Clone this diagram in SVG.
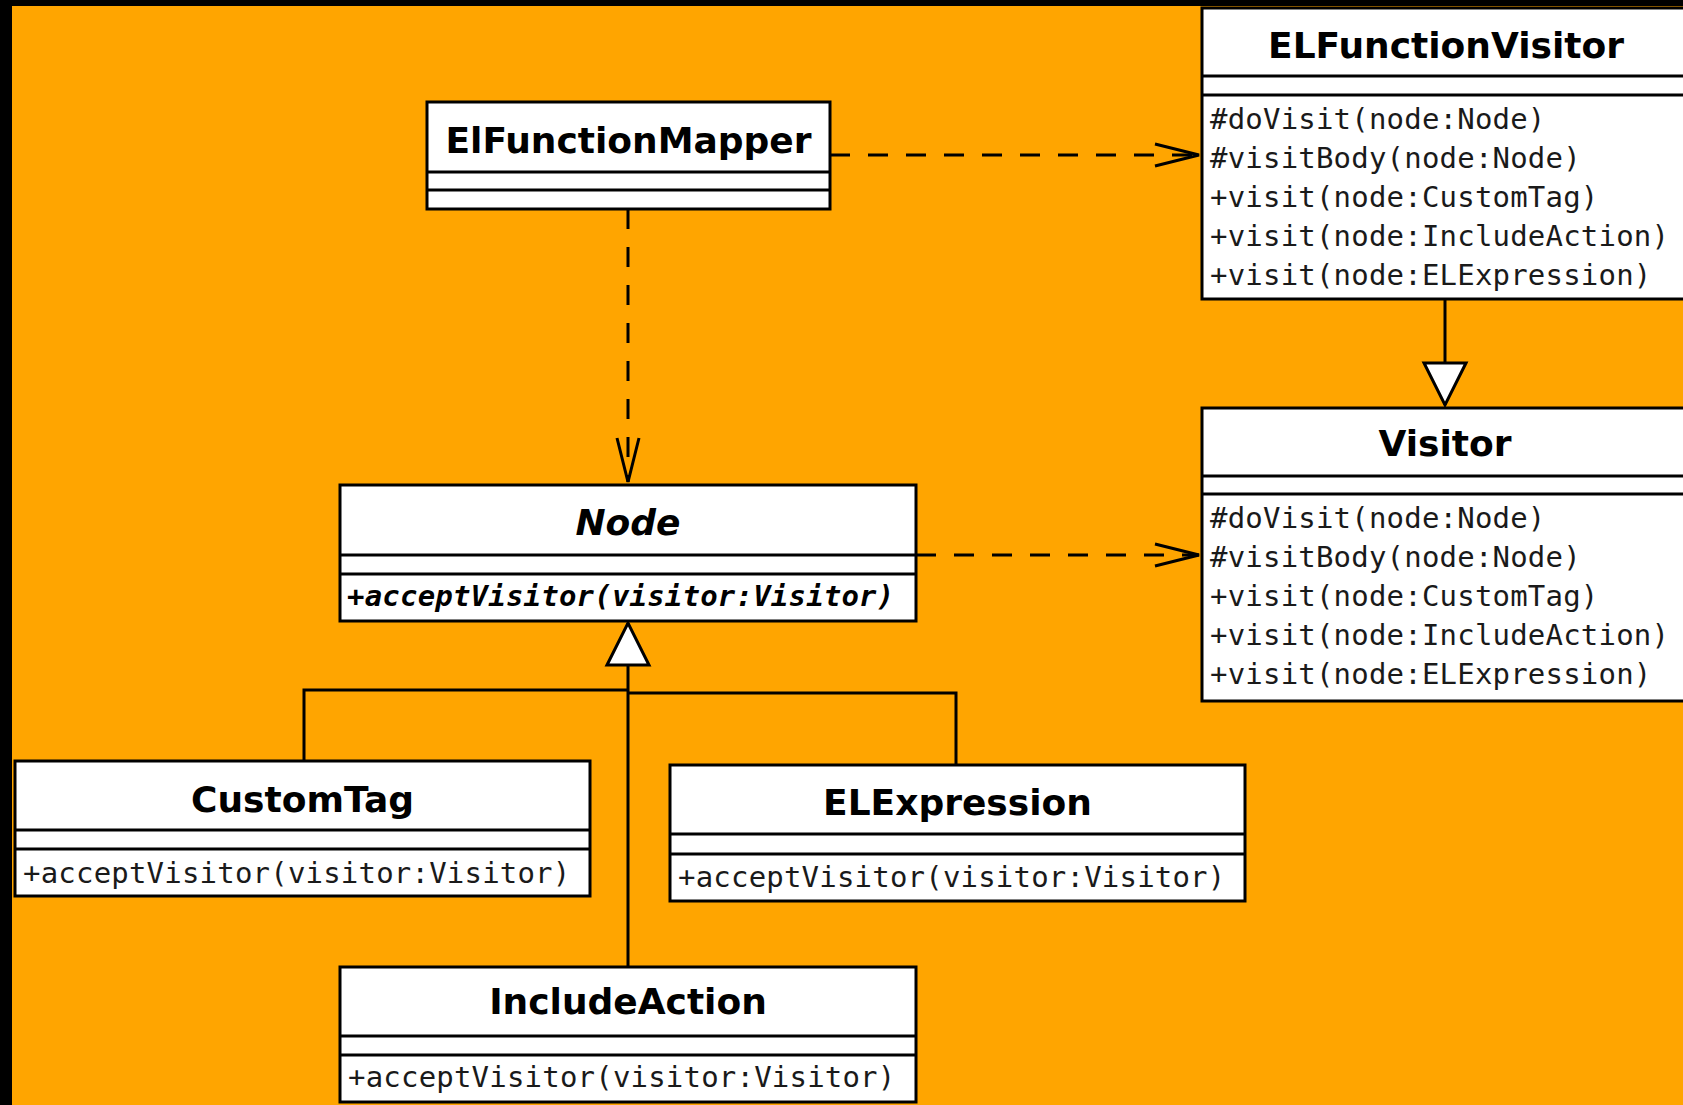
<svg xmlns="http://www.w3.org/2000/svg" width="1683" height="1105" viewBox="0 0 1683 1105">
<style>
.box{fill:#fff;stroke:#000;stroke-width:3}
.div{stroke:#000;stroke-width:3}
.title{font-family:"DejaVu Sans",sans-serif;font-weight:bold;font-size:36px;text-anchor:middle;fill:#000}
.abs{font-style:italic}
.m{font-family:"DejaVu Sans Mono",monospace;font-size:29px;letter-spacing:0.2px;fill:#1a1a1a}
.mabs{font-weight:bold;font-style:italic;fill:#000}
.dash{fill:none;stroke:#000;stroke-width:3;stroke-dasharray:20 18}
.solid{fill:none;stroke:#000;stroke-width:3}
</style>
<defs>
<marker id="open" viewBox="-48 -15 52 30" refX="0" refY="0" markerWidth="52" markerHeight="30" markerUnits="userSpaceOnUse" orient="auto">
<path d="M -44 -11 L 0 0 L -44 11" fill="none" stroke="#000" stroke-width="3"/>
</marker>
<marker id="tri" viewBox="-46 -25 50 50" refX="0" refY="0" markerWidth="50" markerHeight="50" markerUnits="userSpaceOnUse" orient="auto">
<path d="M -42 -21 L 0 0 L -42 21 Z" fill="#fff" stroke="#000" stroke-width="3"/>
</marker>
</defs>
<rect x="0" y="0" width="1683" height="1105" fill="#FFA500"/>
<rect x="0" y="0" width="1683" height="6" fill="#000"/>
<rect x="0" y="0" width="12" height="1105" fill="#000"/>

<g id="connectors">
<path class="dash" d="M 830 155 H 1199" marker-end="url(#open)"/>
<path class="dash" d="M 628 209 V 482" marker-end="url(#open)"/>
<path class="dash" d="M 916 555 H 1199" marker-end="url(#open)"/>
<path class="solid" d="M 1445 299 V 405" marker-end="url(#tri)"/>
<path class="solid" d="M 304 761 V 690 H 628"/>
<path class="solid" d="M 956 765 V 693 H 628"/>
<path class="solid" d="M 628 967 V 623" marker-end="url(#tri)"/>
</g>

<g id="ElFunctionMapper">
<rect class="box" x="427" y="102" width="403" height="107"/>
<line class="div" x1="427" y1="172" x2="830" y2="172"/>
<line class="div" x1="427" y1="190" x2="830" y2="190"/>
<text class="title" x="628.5" y="153">ElFunctionMapper</text>
</g>

<g id="ELFunctionVisitor">
<rect class="box" x="1202" y="8" width="490" height="291"/>
<line class="div" x1="1202" y1="76" x2="1692" y2="76"/>
<line class="div" x1="1202" y1="95" x2="1692" y2="95"/>
<text class="title" x="1446" y="58">ELFunctionVisitor</text>
<text class="m" x="1210" y="129">#doVisit(node:Node)</text>
<text class="m" x="1210" y="168">#visitBody(node:Node)</text>
<text class="m" x="1210" y="207">+visit(node:CustomTag)</text>
<text class="m" x="1210" y="246">+visit(node:IncludeAction)</text>
<text class="m" x="1210" y="285">+visit(node:ELExpression)</text>
</g>

<g id="Visitor">
<rect class="box" x="1202" y="408" width="490" height="293"/>
<line class="div" x1="1202" y1="476" x2="1692" y2="476"/>
<line class="div" x1="1202" y1="494" x2="1692" y2="494"/>
<text class="title" x="1445" y="456">Visitor</text>
<text class="m" x="1210" y="528">#doVisit(node:Node)</text>
<text class="m" x="1210" y="567">#visitBody(node:Node)</text>
<text class="m" x="1210" y="606">+visit(node:CustomTag)</text>
<text class="m" x="1210" y="645">+visit(node:IncludeAction)</text>
<text class="m" x="1210" y="684">+visit(node:ELExpression)</text>
</g>

<g id="Node">
<rect class="box" x="340" y="485" width="576" height="136"/>
<line class="div" x1="340" y1="555" x2="916" y2="555"/>
<line class="div" x1="340" y1="574" x2="916" y2="574"/>
<text class="title abs" x="628" y="535">Node</text>
<text class="m mabs" x="347" y="606">+acceptVisitor(visitor:Visitor)</text>
</g>

<g id="CustomTag">
<rect class="box" x="15" y="761" width="575" height="135"/>
<line class="div" x1="15" y1="830" x2="590" y2="830"/>
<line class="div" x1="15" y1="849" x2="590" y2="849"/>
<text class="title" x="302.5" y="812">CustomTag</text>
<text class="m" x="23" y="883">+acceptVisitor(visitor:Visitor)</text>
</g>

<g id="ELExpression">
<rect class="box" x="670" y="765" width="575" height="136"/>
<line class="div" x1="670" y1="834" x2="1245" y2="834"/>
<line class="div" x1="670" y1="854" x2="1245" y2="854"/>
<text class="title" x="957.5" y="815">ELExpression</text>
<text class="m" x="678" y="887">+acceptVisitor(visitor:Visitor)</text>
</g>

<g id="IncludeAction">
<rect class="box" x="340" y="967" width="576" height="135"/>
<line class="div" x1="340" y1="1036" x2="916" y2="1036"/>
<line class="div" x1="340" y1="1055" x2="916" y2="1055"/>
<text class="title" x="628" y="1014">IncludeAction</text>
<text class="m" x="348" y="1087">+acceptVisitor(visitor:Visitor)</text>
</g>
</svg>
